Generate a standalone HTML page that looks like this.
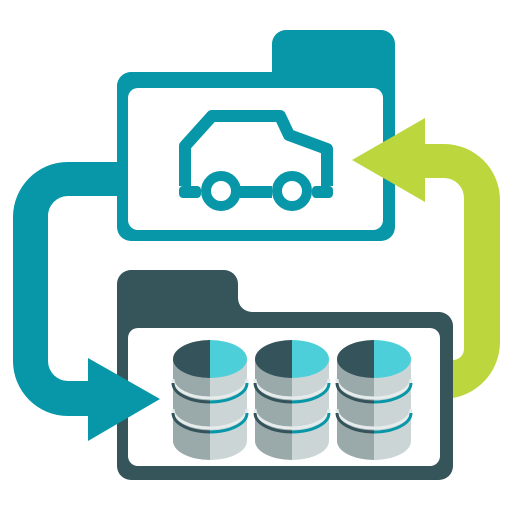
<!DOCTYPE html>
<html><head><style>html,body{margin:0;padding:0;background:#fff}</style></head><body>
<svg width="512" height="512" viewBox="0 0 512 512" xmlns="http://www.w3.org/2000/svg">
<defs>
<g id="cyl">
  <path d="M-37 0 L-37 82 A37 19 0 0 0 0 101 L0 0Z" fill="#9AA9AA"/>
  <path d="M0 0 L0 101 A37 19 0 0 0 37 82 L37 0Z" fill="#CBD5D6"/>
  <path d="M-37 20 A37 19 0 0 0 0 39" fill="none" stroke="#E6ECEC" stroke-width="3"/>
  <path d="M0 39 A37 19 0 0 0 37 20" fill="none" stroke="#E6ECEC" stroke-width="3"/>
  <path d="M-37 24 A37 19 0 0 0 0 43" fill="none" stroke="#34535A" stroke-width="3"/>
  <path d="M0 43 A37 19 0 0 0 37 24" fill="none" stroke="#0797A8" stroke-width="3"/>
  <path d="M-37 50 A37 19 0 0 0 0 69" fill="none" stroke="#E6ECEC" stroke-width="3"/>
  <path d="M0 69 A37 19 0 0 0 37 50" fill="none" stroke="#E6ECEC" stroke-width="3"/>
  <path d="M-37 54 A37 19 0 0 0 0 73" fill="none" stroke="#34535A" stroke-width="3"/>
  <path d="M0 73 A37 19 0 0 0 37 54" fill="none" stroke="#0797A8" stroke-width="3"/>
  <path d="M0 -19 A37 19 0 0 0 0 19Z" fill="#34535A"/>
  <path d="M0 -19 A37 19 0 0 1 0 19Z" fill="#4CCFD9"/>
</g>
</defs>
<path d="M272 44 A14 14 0 0 1 286 30 L381 30 A14 14 0 0 1 395 44 L395 227 A14 14 0 0 1 381 241 L131 241 A14 14 0 0 1 117 227 L117 86 A14 14 0 0 1 131 72 L272 72Z" fill="#0797A8"/>
<rect x="128" y="88" width="255" height="142" rx="10" fill="#fff"/>
<path d="M185 192 L185 146 L212 116 L280 116 L289 135 L327 149 L327 192" fill="none" stroke="#0797A8" stroke-width="12" stroke-linejoin="round"/>
<rect x="178" y="186" width="157" height="12" fill="#fff"/>
<rect x="179" y="186" width="22" height="12" rx="4" fill="#0797A8"/>
<rect x="312" y="186" width="21" height="12" rx="4" fill="#0797A8"/>
<rect x="240" y="186" width="32" height="12" fill="#0797A8"/>
<circle cx="221" cy="191" r="15" fill="#fff" stroke="#0797A8" stroke-width="10"/>
<circle cx="292" cy="191" r="15" fill="#fff" stroke="#0797A8" stroke-width="10"/>
<path d="M117 284 A14 14 0 0 1 131 270 L224 270 A14 14 0 0 1 238 284 L238 298 A14 14 0 0 0 252 312 L439 312 A14 14 0 0 1 453 326 L453 466 A14 14 0 0 1 439 480 L131 480 A14 14 0 0 1 117 466Z" fill="#36555A"/>
<rect x="128" y="328" width="312" height="138" rx="10" fill="#fff"/>
<use href="#cyl" x="210" y="359"/>
<use href="#cyl" x="292" y="359"/>
<use href="#cyl" x="374" y="359"/>
<path d="M117 162 L68 162 A55 55 0 0 0 13 217 L13 361 A55 55 0 0 0 68 416 L88 416 L88 441 L160 399 L88 358 L88 381 L68 381 A20 20 0 0 1 48 361 L48 217 A20 20 0 0 1 68 196 L117 196Z" fill="#0797A8"/>
<path d="M453 360 A11 11 0 0 0 464 349 L464 198 A20 20 0 0 0 444 178 L425 178 L425 202 L352 160 L425 118 L425 144 L444 144 A56 56 0 0 1 500 200 L500 341 A57 57 0 0 1 453 398Z" fill="#BCD63E"/>
</svg>
</body></html>
